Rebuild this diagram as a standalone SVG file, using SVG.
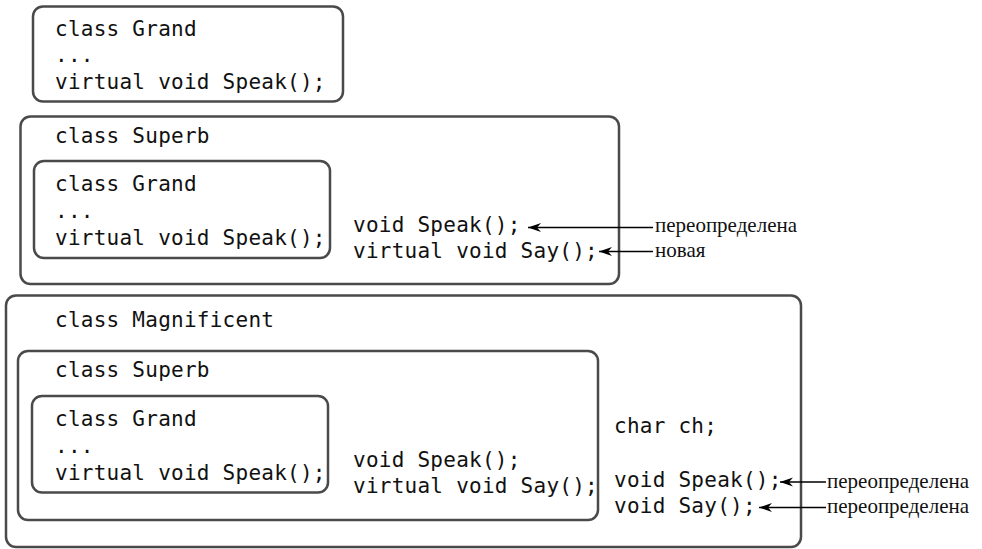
<svg xmlns="http://www.w3.org/2000/svg" width="982" height="549" viewBox="0 0 982 549">
<style>
.box{fill:none;stroke:#4a4a4a;stroke-width:2.5}
.code{font-family:"DejaVu Sans Mono","Liberation Mono",monospace;font-size:21px;letter-spacing:0.25px;fill:#111}
.lbl{font-family:"Liberation Serif","Times New Roman",serif;font-size:21px;fill:#111}
.arr{stroke:#000;stroke-width:1.6;fill:none;marker-end:url(#ah)}
</style>
<defs>
<marker id="ah" markerWidth="14" markerHeight="10" refX="13" refY="5" orient="auto" markerUnits="userSpaceOnUse">
<path d="M0,0.5 L13,5 L0,9.5 L4,5 Z" fill="#000"/>
</marker>
</defs>
<rect width="982" height="549" fill="#fff"/>
<g id="grand1">
<rect class="box" x="33" y="6.5" width="310" height="95" rx="10"/>
<text class="code" x="55" y="36">class Grand</text>
<text class="code" x="55" y="62">...</text>
<text class="code" x="55" y="89">virtual void Speak();</text>
</g>
<g id="superb1">
<rect class="box" x="20.5" y="116.5" width="598.5" height="167.5" rx="10"/>
<text class="code" x="55" y="143">class Superb</text>
<g id="superb1-grand">
<rect class="box" x="34" y="161" width="296" height="97" rx="10"/>
<text class="code" x="55" y="191">class Grand</text>
<text class="code" x="55" y="218">...</text>
<text class="code" x="55" y="245">virtual void Speak();</text>
</g>
<text class="code" x="353" y="232">void Speak();</text>
<text class="code" x="353" y="258">virtual void Say();</text>
</g>
<g id="magnificent">
<rect class="box" x="6" y="295.5" width="795" height="251.5" rx="10"/>
<text class="code" x="55" y="327">class Magnificent</text>
<g id="mag-superb">
<rect class="box" x="18" y="351" width="580" height="169" rx="10"/>
<text class="code" x="55" y="377">class Superb</text>
<g id="mag-grand">
<rect class="box" x="32" y="396" width="296" height="96.5" rx="10"/>
<text class="code" x="55" y="426">class Grand</text>
<text class="code" x="55" y="453">...</text>
<text class="code" x="55" y="480">virtual void Speak();</text>
</g>
<text class="code" x="353" y="467">void Speak();</text>
<text class="code" x="353" y="493">virtual void Say();</text>
</g>
<text class="code" x="614" y="433">char ch;</text>
<text class="code" x="614" y="487">void Speak();</text>
<text class="code" x="614" y="513">void Say();</text>
</g>
<g id="connectors">
<line class="arr" x1="653" y1="227.5" x2="528" y2="227.5"/>
<line class="arr" x1="653" y1="251.5" x2="599" y2="251.5"/>
<line class="arr" x1="826" y1="482" x2="780" y2="482"/>
<line class="arr" x1="826" y1="507.5" x2="759" y2="507.5"/>
</g>
<g id="labels">
<text class="lbl" x="655" y="232">переопределена</text>
<text class="lbl" x="655" y="257">новая</text>
<text class="lbl" x="827" y="488">переопределена</text>
<text class="lbl" x="827" y="513">переопределена</text>
</g>
</svg>
